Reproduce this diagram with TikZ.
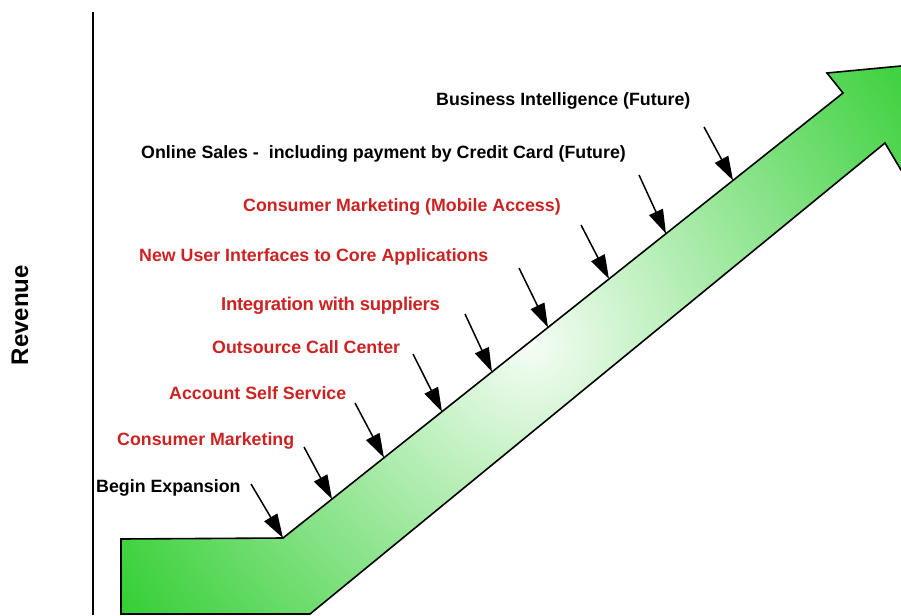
\documentclass[tikz,border=0pt]{standalone}
\usepackage{fontspec}
\setmainfont{Liberation Sans}
\usetikzlibrary{arrows.meta}
\definecolor{lbred}{RGB}{204,34,34}
\definecolor{gOuter}{RGB}{24,200,24}
\definecolor{gInner}{RGB}{245,253,245}
\begin{document}
\begin{tikzpicture}[x=1pt,y=-1pt,
 lbl/.style={font=\fontsize{17.8}{20}\selectfont\bfseries, anchor=base west, inner sep=0pt},
 blk/.style={lbl,text=black},
 rd/.style={lbl,text=lbred},
 pointer/.style={line width=1.5pt,-{Triangle[length=24pt,width=15pt]}},
 axisline/.style={line width=2pt},
 bigarrow/.style={line width=1.6pt, line join=miter}]
\useasboundingbox (0,0) rectangle (901,615);
\begin{scope}
\clip (0,0) rectangle (901,615);
\begin{scope}
\clip (121,539) -- (283,538) -- (843,93) -- (827,73) -- (901,66) -- (960,60) -- (960,220) -- (901,170) -- (885,143) -- (310,614) -- (121,614) -- cycle;
\shade[inner color=gInner, outer color=gOuter] (530,345) circle (560);
\end{scope}
\draw[bigarrow] (121,539) -- (283,538) -- (843,93) -- (827,73) -- (901,66) -- (960,60) -- (960,220) -- (901,170) -- (885,143) -- (310,614) -- (121,614) -- cycle;
\end{scope}
% axis
\coordinate (axtop) at (93,12);
\coordinate (axbot) at (93,615);
\draw[axisline] (axtop) -- (axbot);
\node[font=\fontsize{24}{26}\selectfont\bfseries, rotate=90, inner sep=0pt] (rev) at (20,315) {Revenue};
% labels
\node[blk] (l1) at (96,492) {Begin Expansion};
\node[rd] (l2) at (117,445) {Consumer Marketing};
\node[rd] (l3) at (169,399) {Account Self Service};
\node[rd] (l4) at (212,353) {Outsource Call Center};
\node[rd,font=\fontsize{18.5}{20}\selectfont\bfseries] (l5) at (221,310) {\addfontfeature{LetterSpace=-1.5}Integration with suppliers};
\node[rd] (l6) at (139,261) {New User Interfaces to Core Applications};
\node[rd] (l7) at (243,211) {Consumer Marketing (Mobile Access)};
\node[blk] (l8) at (141,158) {Online Sales -\ \ including payment by Credit Card (Future)};
\node[blk] (l9) at (436,106) {Business Intelligence (Future)};
% pointer arrows
\coordinate (s1) at (251,484); \coordinate (t1) at (283,538);
\coordinate (s2) at (304,447); \coordinate (t2) at (332,499.1);
\coordinate (s3) at (355,403); \coordinate (t3) at (384,457.7);
\coordinate (s4) at (413,354); \coordinate (t4) at (442,411.7);
\coordinate (s5) at (465,314); \coordinate (t5) at (492,371.9);
\coordinate (s6) at (519,268); \coordinate (t6) at (548,327.4);
\coordinate (s7) at (581,225); \coordinate (t7) at (609,279.0);
\coordinate (s8) at (639,175); \coordinate (t8) at (666,233.7);
\coordinate (s9) at (704,127); \coordinate (t9) at (733,180.4);
\foreach \i in {1,...,9} {\draw[pointer] (s\i) -- (t\i);}
\end{tikzpicture}
\end{document}
